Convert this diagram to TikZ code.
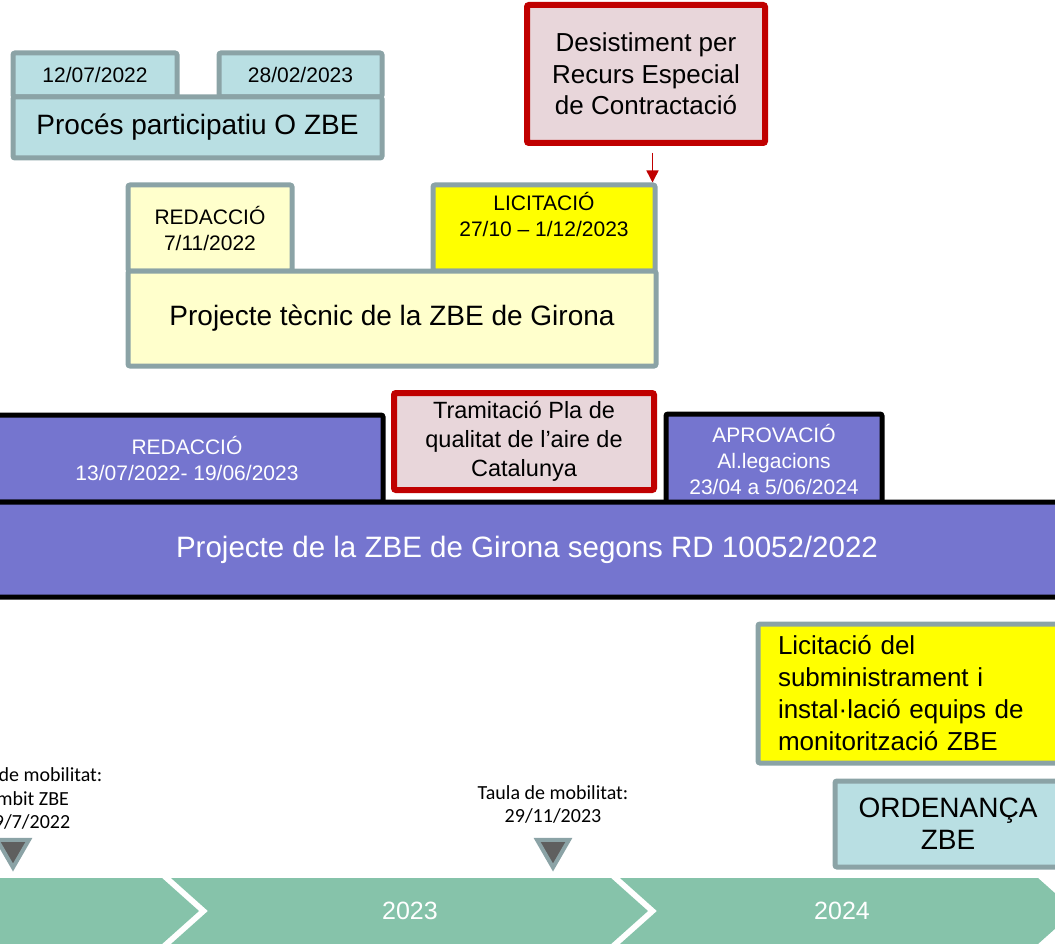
\documentclass[tikz,border=0pt]{standalone}
\usepackage{fontspec}
\setmainfont{Liberation Sans}
\newfontfamily\notefont{Carlito}
\usepackage{tikz}
\usetikzlibrary{arrows.meta, positioning, shapes.geometric}
\usepackage{xcolor}
\definecolor{boxgray}{HTML}{8BA3A6}
\definecolor{tealfill}{HTML}{B9DFE3}
\definecolor{paleyellow}{HTML}{FFFFCC}
\definecolor{pinkfill}{HTML}{E8D6DA}
\definecolor{darkred}{HTML}{C00000}
\definecolor{zbepurple}{HTML}{7575CF}
\definecolor{bandgreen}{HTML}{86C3AA}
\definecolor{markgray}{HTML}{5F5F5F}
\definecolor{brightyellow}{HTML}{FFFF00}
\tikzset{%
	every phase/.style={
		rectangle,
		draw=boxgray,
		line width=5pt,
		rounded corners=2pt,
		align=center,
		inner sep=0pt
	},
	teal phase/.style={every phase, fill=tealfill},
	yellow phase/.style={every phase, fill=paleyellow},
	bright phase/.style={every phase, fill=brightyellow},
	red phase/.style={every phase, draw=darkred, line width=6pt, fill=pinkfill},
	purple phase/.style={every phase, draw=black, fill=zbepurple, text=white},
	small text/.style={font=\fontsize{21}{26}\selectfont},
	big text/.style={font=\fontsize{28}{32}\selectfont},
	year text/.style={font=\fontsize{25}{30}\selectfont, text=white},
	note text/.style={font=\notefont\fontsize{20}{23.5}\selectfont, align=center, inner sep=0pt},
	marker/.style={
		regular polygon,
		regular polygon sides=3,
		shape border rotate=180,
		fill=markgray,
		draw=boxgray,
		line width=4pt,
		minimum size=37pt,
		inner sep=0pt
	},
}
\begin{document}
\begin{tikzpicture}[x=1pt, y=-1pt]
				\useasboundingbox (0,0) rectangle (1055,944);
				\clip (0,0) rectangle (1055,944);
				% Participation process
				\node[teal phase, small text, minimum width=164pt, minimum height=44pt] (Part-Start) at (95,75) {12/07/2022};
				\node[teal phase, small text, minimum width=163pt, minimum height=44pt] (Part-End) at (300.5,75) {28/02/2023};
				\node[teal phase, big text, minimum width=369pt, minimum height=61pt] (Part-Main) at (197.5,127.5) {Procés participatiu O ZBE};
				% Technical project
				\node[yellow phase, small text, minimum width=164pt, minimum height=86pt] (Tec-Red) at (210,228) {REDACCIÓ\\7/11/2022};
				\node[bright phase, small text, text depth=27pt, minimum width=222pt, minimum height=86pt] (Tec-Lic) at (544,228) {LICITACIÓ\\27/10 – 1/12/2023};
				\node[yellow phase, big text, minimum width=528pt, minimum height=95pt] (Tec-Main) at (392,318.5) {Projecte tècnic de la ZBE de Girona};
				% Withdrawal
				\node[red phase, font=\fontsize{26}{31.5}\selectfont, minimum width=238pt, minimum height=138pt] (Desist) at (646,74) {Desistiment per\\Recurs Especial\\de Contractació};
				\draw[-{Triangle[width=12pt, length=12pt]}, darkred, line width=1.5pt, shorten <=7pt]
					([xshift=-5pt]Desist.south -| Tec-Lic.north east) -- ([xshift=-5pt]Tec-Lic.north east);
				% ZBE project (RD)
				\node[purple phase, small text, minimum width=392pt, minimum height=87pt] (Plan-Red) at (187,458.5) {REDACCIÓ\\13/07/2022- 19/06/2023};
				\node[red phase, font=\fontsize{23.5}{29}\selectfont, minimum width=260pt, minimum height=97pt] (Plan-Tram) at (524,441.5) {Tramitació Pla de\\qualitat de l’aire de\\Catalunya};
				\node[purple phase, small text, minimum width=216pt, minimum height=90pt] (Plan-Apr) at (774,459) {APROVACIÓ\\Al.legacions\\23/04 a 5/06/2024};
				\node[purple phase, font=\fontsize{29.5}{34}\selectfont, minimum width=1100pt, minimum height=95pt] (Plan-Main) at (527,549.5) {Projecte de la ZBE de Girona segons RD 10052/2022};
				% Monitoring and ordinance
				\node[bright phase, font=\fontsize{26}{32}\selectfont, align=left, text width=300pt, inner xsep=20pt, minimum height=139pt, anchor=west] (Mon-Lic) at (755.5,693.5) {Licitació del\\subministrament i\\instal·lació equips de\\monitorització ZBE};
				\node[teal phase, big text, minimum width=226pt, minimum height=86pt] (Ord) at (948,824) {ORDENANÇA\\ZBE};
				% Year band
				\foreach \xl/\xr in {-60/162, 171/611, 620/1038}
				{
					\fill[bandgreen] (\xl,878) -- (\xr,878) -- (\xr+37,911) -- (\xr,944) -- (\xl,944) -- (\xl+37,911) -- cycle;
				}
				\foreach \y/\x in {2023/410, 2024/842}
				{
					\node[year text] (Year-\y) at (\x,911) {\y};
				}
				% Markers
				\foreach \i/\x in {1/13, 2/553}
				{
					\node[marker] (Mark-\i) at (\x,849) {};
				}
				\node[note text, above=8pt of Mark-1, xshift=14pt] (Note-1) {Taula de mobilitat:\\Àmbit ZBE\\19/7/2022};
				\node[note text, above=14pt of Mark-2] (Note-2) {Taula de mobilitat:\\29/11/2023};
\end{tikzpicture}
\end{document}
